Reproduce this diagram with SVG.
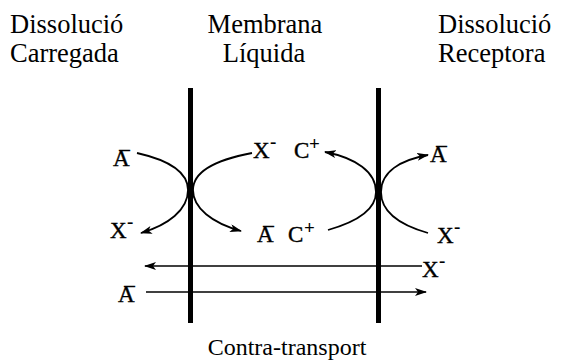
<svg xmlns="http://www.w3.org/2000/svg" width="565" height="360" viewBox="0 0 565 360">
<defs>
<marker id="ah" viewBox="0 0 12 8" refX="11" refY="4" markerWidth="12" markerHeight="8" markerUnits="userSpaceOnUse" orient="auto">
<path d="M0,0 L12,4 L0,8 L3,4 z" fill="#000"/>
</marker>
<style>
.hd{font-family:"Liberation Serif","Times New Roman",serif;font-size:26.5px;fill:#000}
.lb{font-family:"Liberation Serif","Times New Roman",serif;font-size:23px;fill:#000;stroke:#000;stroke-width:0.4}
.sup{font-family:"Liberation Serif","Times New Roman",serif;font-size:19px;font-weight:bold;fill:#000}
.bar{font-family:"Liberation Serif","Times New Roman",serif;font-size:22px;font-weight:bold;fill:#000}
.mem{stroke:#000;stroke-width:5;fill:none}
.cv{stroke:#000;stroke-width:1.8;fill:none;marker-end:url(#ah)}
.ar{stroke:#000;stroke-width:1.6;fill:none;marker-end:url(#ah)}
</style>
</defs>
<rect width="565" height="360" fill="#fff"/>
<g id="header-left"><text class="hd" x="10" y="33">Dissolució</text><text class="hd" x="10" y="62">Carregada</text></g>
<g id="header-mid"><text class="hd" x="265" y="33" text-anchor="middle">Membrana</text><text class="hd" x="264" y="62" text-anchor="middle">Líquida</text></g>
<g id="header-right"><text class="hd" x="438" y="33">Dissolució</text><text class="hd" x="438" y="62">Receptora</text></g>
<g id="membrane-left"><line class="mem" x1="190.5" y1="88" x2="190.5" y2="323"/></g>
<g id="membrane-right"><line class="mem" x1="378.5" y1="88" x2="378.5" y2="323"/></g>
<g id="ion-A-left1"><text class="lb" x="113" y="166">A</text><text class="bar" x="119" y="156">–</text></g>
<g id="ion-X-left"><text class="lb" x="110" y="238">X</text><text class="sup" x="127" y="228">-</text></g>
<g id="ion-XC-mid"><text class="lb" x="253" y="158">X</text><text class="sup" x="270" y="148">-</text><text class="lb" x="294" y="158">C</text><text class="sup" x="309" y="150">+</text></g>
<g id="ion-AC-mid"><text class="lb" x="257" y="242">A</text><text class="bar" x="263" y="232">–</text><text class="lb" x="288" y="242">C</text><text class="sup" x="304" y="234">+</text></g>
<g id="ion-A-right"><text class="lb" x="430" y="162">A</text><text class="bar" x="436" y="152">–</text></g>
<g id="ion-X-right"><text class="lb" x="437" y="243">X</text><text class="sup" x="454" y="233">-</text></g>
<g id="ion-X-bottom"><text class="lb" x="422" y="277">X</text><text class="sup" x="439" y="267">-</text></g>
<g id="ion-A-bottom"><text class="lb" x="118" y="302">A</text><text class="bar" x="124" y="292">–</text></g>
<g id="connectors">
<path class="cv" d="M137,153 C168,160 188,172 188,190 C188,210 168,225 141,233"/>
<path class="cv" d="M252,153 C215,160 193,172 193,190 C193,208 212,223 241,231"/>
<path class="cv" d="M328,230 C356,222 376,210 376,192 C376,172 356,158 325,152"/>
<path class="cv" d="M428,233 C400,225 381,212 381,192 C381,172 400,160 428,155"/>
<path class="ar" d="M422,266 L145,266"/>
<path class="ar" d="M146,292 L426,292"/>
</g>
<g id="caption"><text class="hd" x="287" y="355" text-anchor="middle" style="font-size:24px">Contra-transport</text></g>
</svg>
